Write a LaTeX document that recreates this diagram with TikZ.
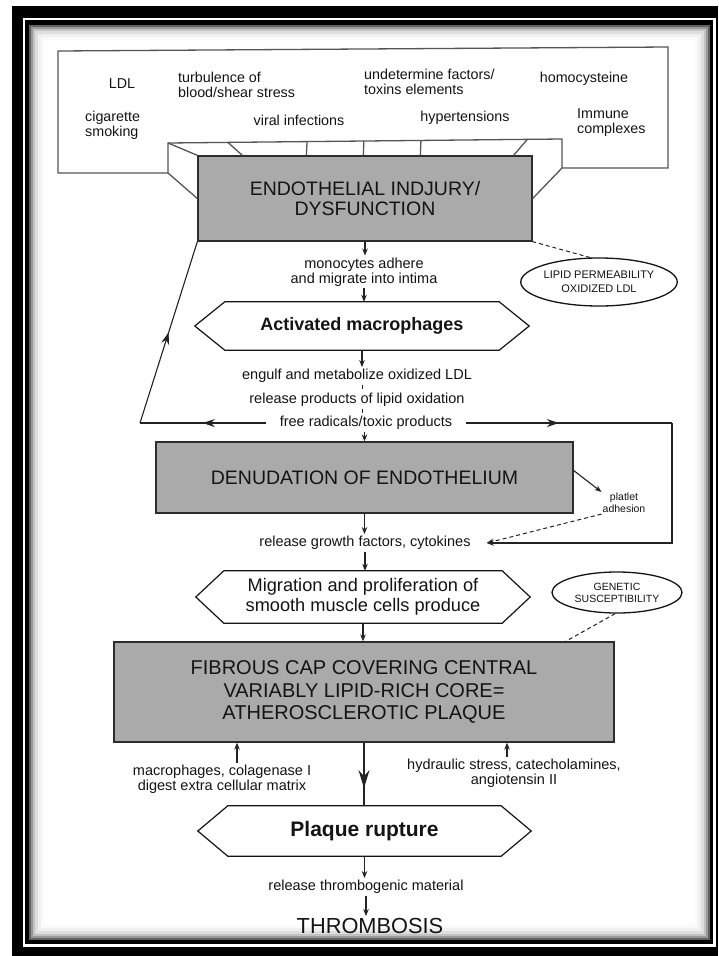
\documentclass[tikz,border=0pt]{standalone}
\usepackage{fontspec}
\setmainfont{Liberation Sans}
\usetikzlibrary{arrows.meta,shapes.geometric,decorations.markings,calc}
\definecolor{ink}{RGB}{20,20,20}
\definecolor{lineC}{RGB}{35,35,35}
\definecolor{boxgray}{RGB}{170,170,170}
\definecolor{edge}{RGB}{45,45,45}
\definecolor{topline}{RGB}{85,85,85}
\newcommand\drawhex[2]{\draw[hexline] (#1.west) -- ($(#1.north west)+(#2,0)$) -- ($(#1.north east)+(-#2,0)$) -- (#1.east) -- ($(#1.south east)+(-#2,0)$) -- ($(#1.south west)+(#2,0)$) -- cycle;}
\tikzset{
  txt/.style={font=\fontsize{14.5}{15}\selectfont, align=center, inner sep=2pt, text=ink},
  topt/.style={font=\fontsize{14.3}{15}\selectfont, align=left, inner sep=0pt, text=ink},
  graybox/.style={draw=edge, fill=boxgray, line width=1.3pt, inner sep=0pt, align=center, text=ink},
  hexnode/.style={inner sep=0pt, align=center, text=ink},
  hexline/.style={draw=ink, line width=1.2pt},
  oval/.style={ellipse, draw=ink, line width=1.3pt, inner sep=0pt, align=center, text=ink},
  arr/.style={draw=lineC, line width=1.1pt, -{Stealth[length=7pt,width=5.5pt]}},
  conn/.style={draw=lineC, line width=1.1pt},
  dsh/.style={draw=lineC, line width=1pt, dash pattern=on 4pt off 3pt},
  funnel/.style={draw=topline, line width=1.3pt},
  midarrow/.style={postaction={decorate}, decoration={markings, mark=at position #1 with {\arrow{Stealth[length=12pt,width=8pt]}}}},
  bigmid/.style={postaction={decorate}, decoration={markings, mark=at position #1 with {\arrow{Stealth[length=18pt,width=11pt,inset=6pt]}}}},
}
\begin{document}
\begin{tikzpicture}[x=1pt,y=-1pt]
\useasboundingbox (0,0) rectangle (718,956);
% frame
\fill[white] (0,0) rectangle (718,956);
\fill[black] (12,6) rectangle (718,956);
\fill[white] (23,18) rectangle (716,947);
\fill[black] (25,20) rectangle (713,944);
\fill[black!62] (29,25) rectangle (710,940);
\fill[black!40] (31,27) rectangle (708,938);
\fill[black!24] (33,29) rectangle (706,936);
\fill[black!13] (35,31) rectangle (704,934);
\fill[black!6] (38,34) rectangle (701,931);
\fill[black!2] (41,37) rectangle (698,928);
\fill[white] (44,40) rectangle (695,925);

% top box with funnel outline
\coordinate (ftl) at (168,143);
\coordinate (ftr) at (562,139);
\draw[funnel] (58,51) -- (668,47) -- (668,168) -- (562,168) -- (ftr) -- (ftl) -- (168,173) -- (58,173) -- cycle;

% endothelial box
\node[graybox, minimum width=334pt, minimum height=85pt, font=\fontsize{19.5}{20.5}\selectfont] (endo) at (365,198.5) {ENDOTHELIAL INDJURY/\\DYSFUNCTION};
\draw[funnel] (168,173) -- (endo.west);
\draw[funnel] (562,168) -- (endo.east);
\draw[funnel] (ftl) -- (endo.north west);
\draw[funnel] ($(ftl)!0.152!(ftr)$) -- ($(endo.north west)+(45,0)$);
\draw[funnel] ($(ftl)!0.912!(ftr)$) -- ($(endo.north east)+(-19,0)$);
\draw[funnel] ($(ftl)!0.353!(ftr)$) -- ($(endo.north west)+(109,0)$);
\draw[funnel] ($(ftl)!0.497!(ftr)$) -- ($(endo.north west)+(166,0)$);
\draw[funnel] ($(ftl)!0.642!(ftr)$) -- ($(endo.north west)+(223,0)$);

% risk factors
\node[topt] (ldl) at (122,84) {LDL};
\node[topt, anchor=west] (turb) at (178,84.5) {turbulence of\\blood/shear stress};
\node[topt, anchor=west] (undet) at (364,82) {undetermine factors/\\toxins elements};
\node[topt] (homo) at (584,79) {homocysteine};
\node[topt, anchor=west] (cig) at (85,125.5) {cigarette\\smoking};
\node[topt] (viral) at (299,120) {viral infections};
\node[topt] (hyper) at (465,118) {hypertensions};
\node[topt, anchor=west] (immune) at (577,122.5) {Immune\\complexes};

% chain
\node[txt] (mono) at (364,272) {monocytes adhere\\and migrate into intima};
\node[hexnode, minimum width=334pt, minimum height=48pt, font=\bfseries\fontsize{18}{20}\selectfont] (act) at (362,326) {Activated macrophages};
\drawhex{act}{30}
\node[oval, minimum width=150pt, minimum height=48pt, font=\fontsize{11}{14}\selectfont] (lipid) at (599,282) {LIPID PERMEABILITY\\OXIDIZED LDL};
\node[txt] (engulf) at (357,376) {engulf and metabolize oxidized LDL};
\node[txt] (relprod) at (357,400) {release products of lipid oxidation};
\node[txt] (free) at (366,423) {free radicals/toxic products};
\node[graybox, minimum width=417pt, minimum height=71pt, font=\fontsize{19.5}{21}\selectfont] (denud) at (364.5,477.5) {DENUDATION OF ENDOTHELIUM};
\node[font=\fontsize{10.5}{12}\selectfont, align=center, inner sep=1pt, text=ink] (plat) at (624,503) {platlet\\adhesion};
\node[txt] (relgrowth) at (365,543) {release growth factors, cytokines};
\node[hexnode, minimum width=334pt, minimum height=52pt, font=\fontsize{18.2}{20}\selectfont] (migr) at (363,597) {Migration and proliferation of\\smooth muscle cells produce};
\drawhex{migr}{28}
\node[oval, minimum width=130pt, minimum height=41pt, font=\fontsize{10.5}{12}\selectfont] (genetic) at (617,592.5) {GENETIC\\SUSCEPTIBILITY};
\node[graybox, minimum width=500pt, minimum height=100pt, font=\fontsize{20}{22.5}\selectfont] (fibrous) at (364,692) {FIBROUS CAP COVERING CENTRAL\\VARIABLY LIPID-RICH CORE=\\ATHEROSCLEROTIC PLAQUE};
\node[txt] (macro) at (222,779.5) {macrophages, colagenase I\\digest extra cellular matrix};
\node[txt] (hydra) at (514,773.5) {hydraulic stress, catecholamines,\\angiotensin II};
\node[hexnode, minimum width=333pt, minimum height=50pt, font=\bfseries\fontsize{21}{23}\selectfont] (plaque) at (364.5,831) {Plaque rupture};
\drawhex{plaque}{30}
\node[txt] (relthromb) at (366,887) {release thrombogenic material};
\node[txt, font=\fontsize{21.8}{24}\selectfont] (thromb) at (370,926) {THROMBOSIS};

% connectors
\draw[arr] (endo.south) -- (endo.south |- mono.north);
\draw[arr] (mono.south) -- (mono.south |- act.north);
\draw[arr] (act.south) -- (act.south |- engulf.north);
\draw[dsh] (engulf.south -| act.south) -- (act.south |- relprod.north);
\draw[dsh] (relprod.south -| act.south) -- (act.south |- free.north);
\draw[arr] (free.south -| denud.north) -- (denud.north);
\coordinate (lc) at (140,423);
\draw[conn, midarrow=0.5] ([xshift=-12pt]free.west) -- (lc);
\draw[conn, midarrow=0.5] (lc) -- (endo.south west);
\coordinate (rc1) at (672,423);
\draw[conn, midarrow=0.45] ([xshift=12pt]free.east) -- (rc1);
\draw[arr] (rc1) -- (rc1 |- relgrowth.east) -- ([xshift=14pt]relgrowth.east);
\draw[arr] ($(denud.east)+(0,-7)$) -- (plat.north west);
\draw[dsh, -{Stealth[length=7pt,width=5.5pt]}] (plat.south west) -- ([xshift=14pt]relgrowth.east);
\draw[dsh] (lipid.110) -- (endo.south east);
\draw[arr] (denud.south) -- (denud.south |- relgrowth.north);
\draw[arr] (relgrowth.south) -- (relgrowth.south |- migr.north);
\draw[arr] (migr.south) -- (migr.south |- fibrous.north);
\draw[dsh] (genetic.265) -- ($(fibrous.north east)+(-49,0)$);
\draw[arr] ([xshift=15pt]macro.north) -- ([xshift=15pt]macro.north |- fibrous.south);
\draw[arr] ([xshift=-7pt]hydra.north) -- ([xshift=-7pt]hydra.north |- fibrous.south);
\draw[conn, bigmid=0.72] (fibrous.south) -- (fibrous.south |- plaque.north);
\draw[arr] (plaque.south) -- (plaque.south |- relthromb.north);
\draw[arr] (relthromb.south) -- (relthromb.south |- thromb.north);
\end{tikzpicture}
\end{document}
